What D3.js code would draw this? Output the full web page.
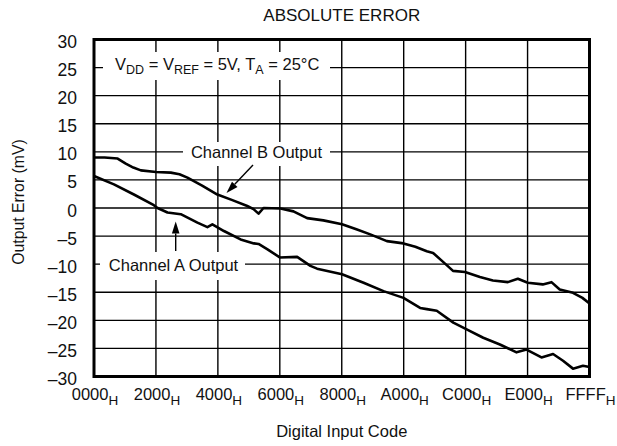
<!DOCTYPE html>
<html><head><meta charset="utf-8">
<script src="https://cdn.jsdelivr.net/npm/d3@7/dist/d3.min.js"></script>
<style>body{margin:0;background:#fff}svg{display:block}text{font-family:"Liberation Sans",Arial,sans-serif;fill:#111}</style>
</head><body><svg id="c" width="617" height="446"></svg>
<script>
const title = "ABSOLUTE ERROR";
const xTickValues = [0x0000, 0x2000, 0x4000, 0x6000, 0x8000, 0xA000, 0xC000, 0xE000, 0xFFFF];
const xTickLabels = ["0000", "2000", "4000", "6000", "8000", "A000", "C000", "E000", "FFFF"];
const yTickValues = [30, 25, 20, 15, 10, 5, 0, -5, -10, -15, -20, -25, -30];
const chanBCodes = [0, 1400, 3126, 4200, 5200, 6199, 8200, 10156, 11300, 12359, 14300, 16316, 18300, 20273, 21100, 21764, 22423, 24665, 26380, 28187, 30337, 32804, 34700, 36536, 38739, 40929, 42500, 44015, 44846, 46429, 47484, 49067, 51045, 52760, 54739, 56058, 57377, 59355, 60503, 61597, 63352, 64600, 65535];
const chanBValues = [9.0, 9.0, 8.8, 7.9, 7.2, 6.7, 6.4, 6.3, 6.0, 5.4, 4.0, 2.4, 1.4, 0.35, -0.2, -1.0, 0.0, -0.1, -0.6, -1.8, -2.2, -2.9, -3.8, -4.7, -5.9, -6.3, -6.9, -7.7, -8.0, -9.9, -11.2, -11.4, -12.3, -12.9, -13.2, -12.6, -13.3, -13.6, -13.2, -14.5, -15.1, -16.0, -17.0];
const chanACodes = [0, 2638, 5276, 7914, 8402, 9721, 11475, 13678, 14997, 15656, 17187, 19389, 21144, 21764, 23000, 24573, 26868, 28622, 29506, 32804, 35653, 38291, 40929, 43132, 44015, 45334, 47524, 49291, 51481, 53684, 55887, 57206, 59184, 60715, 62034, 63352, 64671, 65535];
const chanAValues = [5.7, 4.2, 2.4, 0.5, 0.0, -0.8, -1.1, -2.6, -3.4, -2.9, -4.1, -5.6, -6.3, -6.4, -7.4, -8.8, -8.7, -10.3, -10.8, -11.8, -13.3, -14.8, -16.0, -17.8, -18.0, -18.3, -20.4, -21.6, -23.1, -24.3, -25.7, -25.2, -26.6, -26.0, -27.2, -28.6, -28.1, -28.3];
const legendText = "V_DD = V_REF = 5V, T_A = 25°C";
const labelB = "Channel B Output";
const labelA = "Channel A Output";

const svg = d3.select("#c");
const L = 94, R = 589.5, T = 39.5, B = 376.5;
const x = d3.scaleLinear().domain([0, 65535]).range([L, R]);
const y = d3.scaleLinear().domain([-30, 30]).range([B, T]);
const FS = 16.5;

// grid
const g = svg.append("g");
g.selectAll(".vg").data(xTickValues.slice(1, -1)).join("line")
  .attr("x1", d => x(d)).attr("x2", d => x(d)).attr("y1", T).attr("y2", B)
  .attr("stroke", "#000").attr("stroke-width", 1.4);
g.selectAll(".hg").data(yTickValues.slice(1, -1)).join("line")
  .attr("x1", L).attr("x2", R).attr("y1", d => y(d)).attr("y2", d => y(d))
  .attr("stroke", "#000").attr("stroke-width", 1.4);

// y tick labels
svg.append("g").selectAll("text").data(yTickValues).join("text")
  .attr("x", 77).attr("y", d => y(d) + 2.5).attr("text-anchor", "end")
  .attr("dominant-baseline", "central").attr("font-size", 17.5)
  .text(d => d < 0 ? "\u2013" + Math.abs(d) : String(d));

// x tick labels with subscript H
const xt = svg.append("g").selectAll("text").data(xTickValues).join("text")
  .attr("x", (d, i) => x(d) + 1).attr("y", 400).attr("text-anchor", "middle").attr("font-size", FS);
xt.append("tspan").text((d, i) => xTickLabels[i]);
xt.append("tspan").attr("font-size", 13.5).attr("dy", 5).text("H");

// title & axis titles
svg.append("text").attr("x", (L + R) / 2).attr("y", 20.5).attr("text-anchor", "middle")
  .attr("font-size", 17).text(title);
svg.append("text").attr("x", (L + R) / 2).attr("y", 436.5).attr("text-anchor", "middle")
  .attr("font-size", FS).text("Digital Input Code");
svg.append("text").attr("transform", "translate(23.5,202) rotate(-90)").attr("text-anchor", "middle")
  .attr("font-size", 15.8).text("Output Error (mV)");

// legend box
svg.append("rect").attr("x", 103).attr("y", 52).attr("width", 227).attr("height", 28).attr("fill", "#fff");
const lt = svg.append("text").attr("x", 115).attr("y", 70).attr("font-size", FS);
legendText.split(/(_[A-Z]+)/).forEach(part => {
  if (!part) return;
  if (part.startsWith("_")) lt.append("tspan").attr("font-size", 12.5).attr("dy", 4).text(part.slice(1));
  else {
    const t = lt.append("tspan").text(part);
    if (lt.selectAll("tspan").size() > 1) t.attr("dy", -4);
  }
});

// data lines
const line = d3.line().x(d => x(d[0])).y(d => y(d[1]));
svg.append("path").datum(d3.zip(chanBCodes, chanBValues)).attr("d", line)
  .attr("fill", "none").attr("stroke", "#000").attr("stroke-width", 2.6).attr("stroke-linejoin", "round");
svg.append("path").datum(d3.zip(chanACodes, chanAValues)).attr("d", line)
  .attr("fill", "none").attr("stroke", "#000").attr("stroke-width", 2.6).attr("stroke-linejoin", "round");

// channel labels
svg.append("rect").attr("x", 183).attr("y", 142).attr("width", 147).attr("height", 24).attr("fill", "#fff");
svg.append("text").attr("x", 256.5).attr("y", 158).attr("text-anchor", "middle").attr("font-size", FS).text(labelB);
svg.append("rect").attr("x", 100).attr("y", 252).attr("width", 145).attr("height", 28).attr("fill", "#fff");
svg.append("text").attr("x", 173.5).attr("y", 271).attr("text-anchor", "middle").attr("font-size", FS).text(labelA);

// arrows
function arrow(x1, y1, x2, y2) {
  const a = Math.atan2(y2 - y1, x2 - x1), len = 12, w = 3.8;
  const bx = x2 - len * Math.cos(a), by = y2 - len * Math.sin(a);
  svg.append("line").attr("x1", x1).attr("y1", y1).attr("x2", bx).attr("y2", by)
    .attr("stroke", "#000").attr("stroke-width", 1.4);
  const px = -Math.sin(a) * w, py = Math.cos(a) * w;
  svg.append("path").attr("d", `M${x2},${y2}L${bx + px},${by + py}L${bx - px},${by - py}Z`).attr("fill", "#000");
}
arrow(253, 165, 226.5, 193);
arrow(175.7, 251, 175.7, 221.5);

// frame
svg.append("rect").attr("x", L).attr("y", T).attr("width", R - L).attr("height", B - T)
  .attr("fill", "none").attr("stroke", "#000").attr("stroke-width", 3);
</script></body></html>
